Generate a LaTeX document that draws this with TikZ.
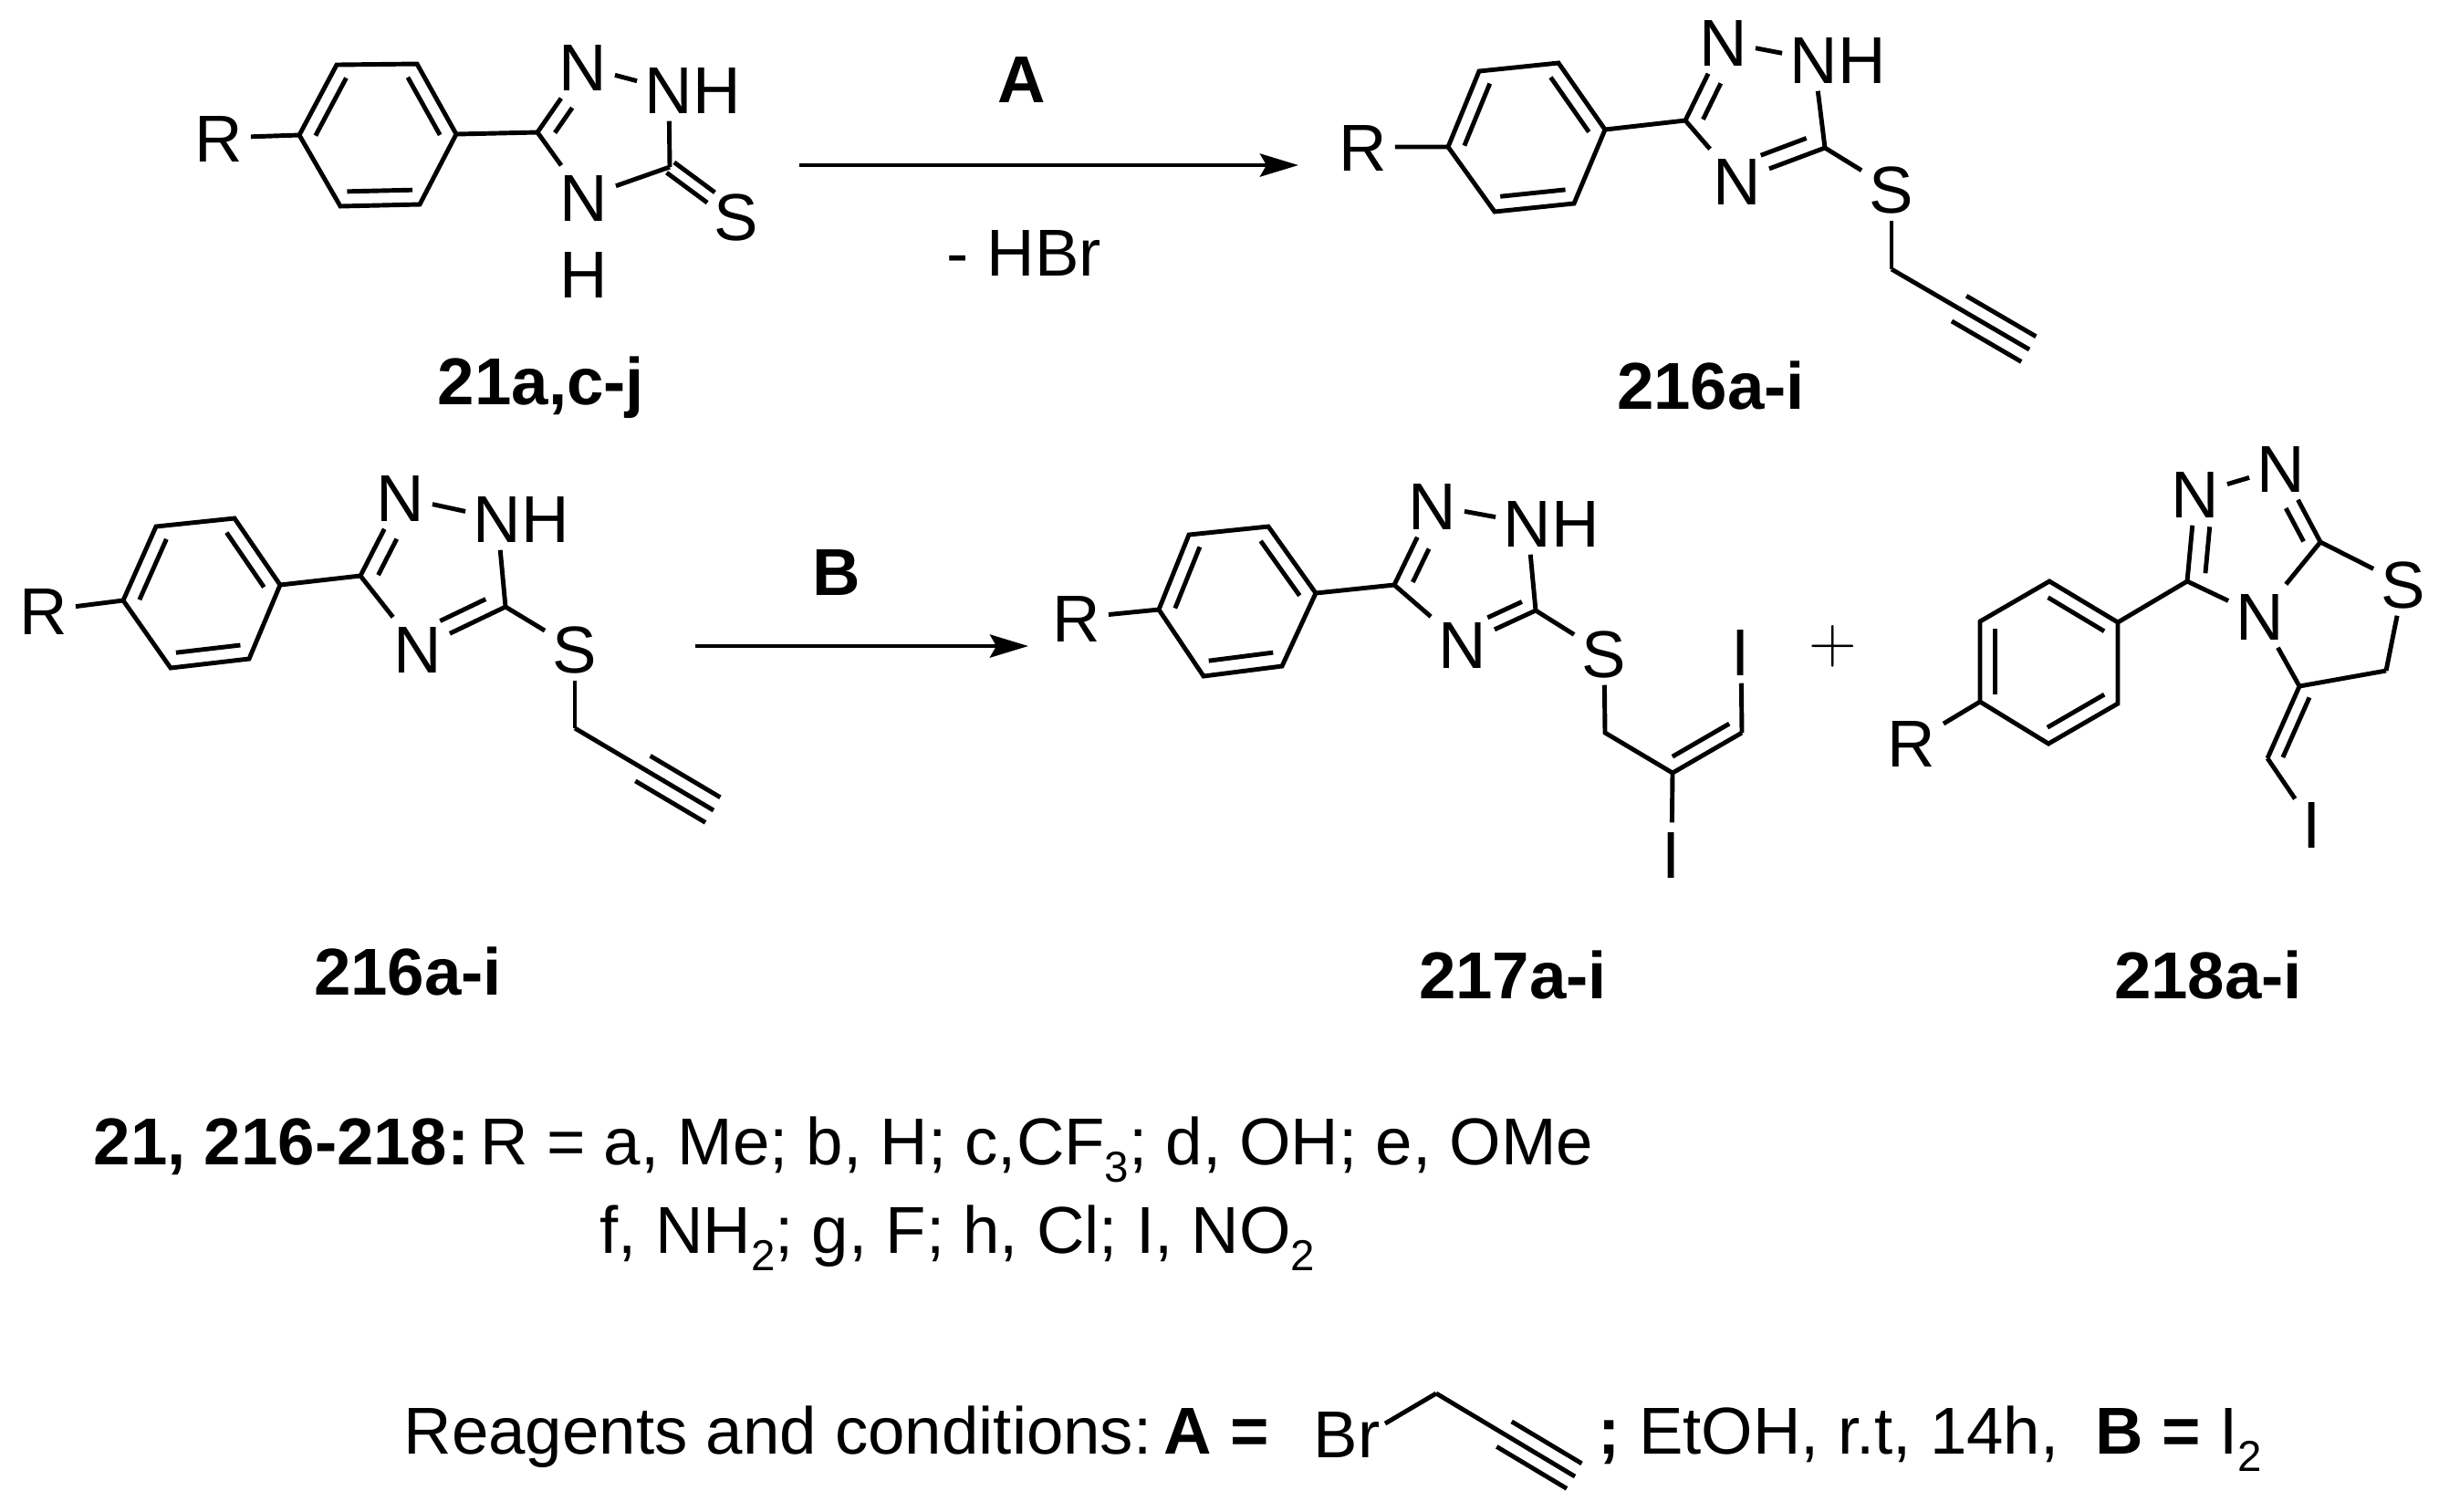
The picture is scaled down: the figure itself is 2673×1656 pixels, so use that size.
\documentclass[tikz,border=0pt]{standalone}
\usepackage{fontspec}
\usepackage{tikz}
\usetikzlibrary{calc,arrows.meta}
\setmainfont{Liberation Sans}

\newcommand{\inbond}[5]{\draw[bond] ($(#1)!#3!(#2)!#5!-90:(#1)$) -- ($(#1)!#4!(#2)!#5!-90:(#1)$);}
\newcommand{\phenyl}[1]{
    \draw[bond] (#11) -- (#12) -- (#13) -- (#14) -- (#15) -- (#16) -- cycle;
    \inbond{#11}{#12}{.09}{.91}{-.16cm}
    \inbond{#13}{#14}{.09}{.91}{-.16cm}
    \inbond{#15}{#16}{.09}{.91}{-.16cm}
}
\newcommand{\alkyne}[2]{
    \draw[bond] (#1) -- (#2);
    \inbond{#1}{#2}{.49}{.995}{.16cm}
    \inbond{#1}{#2}{.49}{.995}{-.16cm}
}
\newcommand{\subscr}[1]{\raisebox{-.27em}{\fontsize{13.5}{14}\selectfont #1}}

\begin{document}
\begin{tikzpicture}[
        x=.01cm, y=-.01cm,
        every node/.style={font=\fontsize{20.66}{24}\selectfont},
        atom node/.style={anchor=base, inner sep=.08cm, text height=.52cm, text depth=0pt},
        text node/.style={anchor=base, inner sep=0pt},
        line node/.style={anchor=base west, inner sep=0pt},
        bond/.style={line width=1.4pt},
        rxn arrow/.style={line width=1.4pt, -{Stealth[length=.42cm,width=.25cm,inset=.07cm]}},
    ]
    \useasboundingbox (0,0) rectangle (2673,1656);

    \coordinate (t1) at (328,148);
    \coordinate (t2) at (369,71);
    \coordinate (t3) at (457,70);
    \coordinate (t4) at (500,147);
    \coordinate (t5) at (460,224);
    \coordinate (t6) at (373,226);
    \coordinate (tc3) at (589,145);
    \coordinate (tc5) at (734,183);
    \node[atom node] (tR) at (240,177) {R};
    \node[atom node] (tn2) at (639,99) {N};
    \node[atom node] (tn1) at (733,124) {N\rlap{H}};
    \node[atom node] (tn4) at (640,242) {N};
    \node[atom node] (tH) at (640,326) {H};
    \node[atom node] (tS) at (807,263) {S};
    \node[text node] (tname) at (593,443) {\textbf{21a,c-j}};
    \phenyl{t}
    \draw[bond] (tR) -- (t1);
    \draw[bond] (t4) -- (tc3);
    \draw[bond] (tc3) -- (tn2);
    \inbond{tc3}{tn2}{.12}{.5}{-.16cm}
    \draw[bond] (tn2) -- (tn1);
    \draw[bond] (tn1) -- (tc5);
    \draw[bond] (tc3) -- (tn4);
    \draw[bond] (tn4) -- (tc5);
    \inbond{tc5}{tS}{.01}{.62}{.07cm}
    \inbond{tc5}{tS}{.01}{.62}{-.07cm}

    \coordinate (arrA1) at (876,181);
    \coordinate (arrA2) at (1423,181);
    \draw[rxn arrow] (arrA1) -- (arrA2);
    \node[text node] (reagA) at (1120,112) {\textbf{A}};
    \node[text node] (lossA) at (1122,302) {- HBr};

    \coordinate (p1) at (1587,161);
    \coordinate (p2) at (1621,78);
    \coordinate (p3) at (1708,69);
    \coordinate (p4) at (1759,142);
    \coordinate (p5) at (1725,223);
    \coordinate (p6) at (1638,232);
    \coordinate (pc3) at (1847,132);
    \coordinate (pc5) at (2000,162);
    \coordinate (pch) at (2073,295);
    \coordinate (pend) at (2224,383);
    \node[atom node] (pR) at (1494,187) {R};
    \node[atom node] (pn2) at (1889,72) {N};
    \node[atom node] (pn1) at (1988,91) {N\rlap{H}};
    \node[atom node] (pn4) at (1904,224) {N};
    \node[atom node] (pS) at (2073,233) {S};
    \node[text node] (pname) at (1875,448) {\textbf{216a-i}};
    \phenyl{p}
    \draw[bond] (pR) -- (p1);
    \draw[bond] (p4) -- (pc3);
    \draw[bond] (pc3) -- (pn2);
    \inbond{pc3}{pn2}{.1}{.56}{-.17cm}
    \draw[bond] (pn2) -- (pn1);
    \draw[bond] (pn1) -- (pc5);
    \draw[bond] (pc3) -- (pn4);
    \draw[bond] (pc5) -- (pn4);
    \inbond{pc5}{pn4}{.15}{.67}{-.17cm}
    \draw[bond] (pc5) -- (pS);
    \draw[bond] (pS) -- (pch);
    \alkyne{pch}{pend}

    \coordinate (q1) at (135,658);
    \coordinate (q2) at (171,577);
    \coordinate (q3) at (257,568);
    \coordinate (q4) at (307,641);
    \coordinate (q5) at (273,722);
    \coordinate (q6) at (187,732);
    \coordinate (qc3) at (395,631);
    \coordinate (qc5) at (554,665);
    \coordinate (qch) at (630,798);
    \coordinate (qend) at (782,888);
    \node[atom node] (qR) at (48,695) {R};
    \node[atom node] (qn2) at (439,571) {N};
    \node[atom node] (qn1) at (545,594) {N\rlap{H}};
    \node[atom node] (qn4) at (458,737) {N};
    \node[atom node] (qS) at (630,737) {S};
    \node[text node] (qname) at (447,1090) {\textbf{216a-i}};
    \phenyl{q}
    \draw[bond] (qR) -- (q1);
    \draw[bond] (q4) -- (qc3);
    \draw[bond] (qc3) -- (qn2);
    \inbond{qc3}{qn2}{.1}{.56}{-.17cm}
    \draw[bond] (qn2) -- (qn1);
    \draw[bond] (qn1) -- (qc5);
    \draw[bond] (qc3) -- (qn4);
    \draw[bond] (qc5) -- (qn4);
    \inbond{qc5}{qn4}{.15}{.67}{-.17cm}
    \draw[bond] (qc5) -- (qS);
    \draw[bond] (qS) -- (qch);
    \alkyne{qch}{qend}

    \coordinate (arrB1) at (762,708);
    \coordinate (arrB2) at (1127,708);
    \draw[rxn arrow] (arrB1) -- (arrB2);
    \node[text node] (reagB) at (917,652) {\textbf{B}};

    \coordinate (d1) at (1270,668);
    \coordinate (d2) at (1303,586);
    \coordinate (d3) at (1390,577);
    \coordinate (d4) at (1442,650);
    \coordinate (d5) at (1405,730);
    \coordinate (d6) at (1319,741);
    \coordinate (dc3) at (1528,641);
    \coordinate (dc5) at (1683,669);
    \coordinate (dch) at (1759,803);
    \coordinate (dci) at (1833,847);
    \coordinate (dchi) at (1909,803);
    \node[atom node] (dR) at (1180,703) {R};
    \node[atom node] (dn2) at (1570,580) {N};
    \node[atom node] (dn1) at (1674,599) {N\rlap{H}};
    \node[atom node] (dn4) at (1603,732) {N};
    \node[atom node] (dS) at (1758,742) {S};
    \node[atom node] (dI1) at (1908,740) {I};
    \node[atom node] (dI2) at (1832,962) {I};
    \node[text node] (dname) at (1658,1094) {\textbf{217a-i}};
    \phenyl{d}
    \draw[bond] (dR) -- (d1);
    \draw[bond] (d4) -- (dc3);
    \draw[bond] (dc3) -- (dn2);
    \inbond{dc3}{dn2}{.12}{.54}{-.17cm}
    \draw[bond] (dn2) -- (dn1);
    \draw[bond] (dn1) -- (dc5);
    \draw[bond] (dc3) -- (dn4);
    \draw[bond] (dc5) -- (dn4);
    \inbond{dc5}{dn4}{.11}{.58}{-.15cm}
    \draw[bond] (dc5) -- (dS);
    \draw[bond] (dS) -- (dch) -- (dci) -- (dchi);
    \inbond{dci}{dchi}{.1}{.92}{.155cm}
    \draw[bond] (dchi) -- (dI1);
    \draw[bond] (dci) -- (dI2);

    \node[text node] (plus) at (2009,726) {$+$};

    \coordinate (z1) at (2170,769);
    \coordinate (z2) at (2170,681);
    \coordinate (z3) at (2246,637);
    \coordinate (z4) at (2321,682);
    \coordinate (z5) at (2321,771);
    \coordinate (z6) at (2245,815);
    \coordinate (zc3) at (2397,637);
    \coordinate (zc8) at (2543,594);
    \coordinate (zc5) at (2520,752);
    \coordinate (zch) at (2615,735);
    \coordinate (zchi) at (2485,831);
    \node[atom node] (zR) at (2095,840) {R};
    \node[atom node] (zn2) at (2406,567) {N};
    \node[atom node] (zn1) at (2500,539) {N};
    \node[atom node] (zn4) at (2477,701) {N};
    \node[atom node] (zS) at (2634,666) {S};
    \node[atom node] (zI) at (2534,929) {I};
    \node[text node] (zname) at (2420,1094) {\textbf{218a-i}};
    \phenyl{z}
    \draw[bond] (zR) -- (z1);
    \draw[bond] (z4) -- (zc3);
    \draw[bond] (zc3) -- (zn2);
    \inbond{zc3}{zn2}{.11}{.64}{-.19cm}
    \draw[bond] (zn2) -- (zn1);
    \draw[bond] (zc8) -- (zn1);
    \inbond{zc8}{zn1}{.1}{.55}{.16cm}
    \draw[bond] (zc8) -- (zS);
    \draw[bond] (zc8) -- (zn4);
    \draw[bond] (zc3) -- (zn4);
    \draw[bond] (zn4) -- (zc5);
    \draw[bond] (zc5) -- (zch);
    \draw[bond] (zch) -- (zS);
    \draw[bond] (zc5) -- (zchi);
    \inbond{zc5}{zchi}{.08}{.91}{.15cm}
    \draw[bond] (zchi) -- (zI);

    \node[line node] (rlist1) at (102,1276) {\textbf{21, 216-218:}\hspace{-.15cm} R = a, Me; b, H; c,CF\subscr{3}; d, OH; e, OMe};
    \node[line node] (rlist2) at (657,1373) {f, NH\subscr{2}; g, F; h, Cl; I, NO\subscr{2}};

    \node[line node] (cond1) at (442,1593) {Reagents and conditions:\hspace{-.14cm} \textbf{A =}};
    \node[text node] (rBr) at (1476,1597) {Br};
    \coordinate (rbr) at (1518,1560);
    \coordinate (rch) at (1574,1527);
    \coordinate (rend) at (1726,1618);
    \draw[bond] (rbr) -- (rch);
    \alkyne{rch}{rend}
    \node[line node] (cond2) at (1751,1593) {\textbf{;} EtOH, r.t, 14h,\ \ \textbf{B =} I\subscr{2}};
\end{tikzpicture}
\end{document}
